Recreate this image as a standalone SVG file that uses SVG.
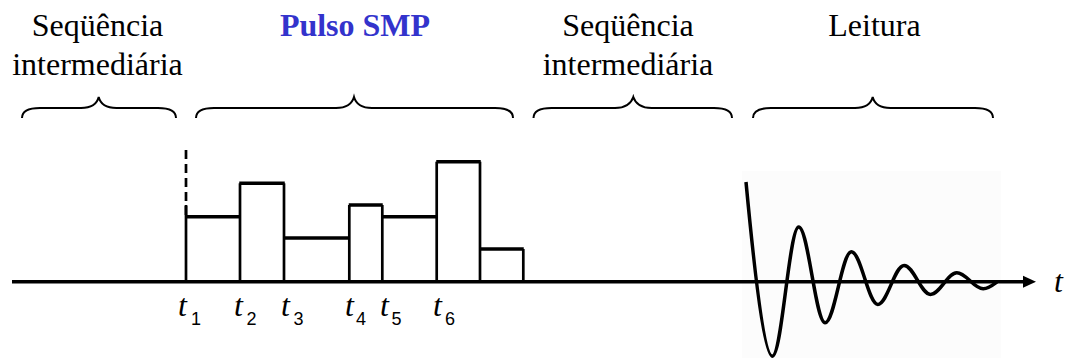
<svg xmlns="http://www.w3.org/2000/svg" width="1065" height="358" viewBox="0 0 1065 358">
<style>
.lbl{font-size:32px;fill:#000;text-anchor:middle}
.blue{fill:#3333cc;font-weight:bold}
.brace{fill:none;stroke:#000;stroke-width:2}
.top{stroke:#000;stroke-width:3.5;stroke-linecap:square}
.side{stroke:#000;stroke-width:2.7}
.ti{font-style:italic;font-size:32px;fill:#000}
.sub{font-size:18px;fill:#000}
</style>
<defs>
<marker id="arr" markerWidth="14" markerHeight="14" refX="0" refY="7" orient="auto" markerUnits="userSpaceOnUse"><path d="M0,1 L13,7 L0,13 z" fill="#000"/></marker>
</defs>
<rect width="1065" height="358" fill="#fff"/>
<rect x="742" y="171" width="259" height="187" fill="#fcfcfc"/>

<g id="label-seq1" font-family="Liberation Serif, DejaVu Serif, serif">
<text class="lbl" x="97.5" y="36">Seqüência</text>
<text class="lbl" x="97.5" y="75">intermediária</text>
<path class="brace" d="M22,118 C22,111 28,108 40,108 L81,108 C92,108 97,104 98.7,97 C100.4,104 105.4,108 116.4,108 L158,108 C170,108 176,111 176,118"/>
</g>
<g id="label-pulso" font-family="Liberation Serif, DejaVu Serif, serif">
<text class="lbl blue" x="355" y="36">Pulso SMP</text>
<path class="brace" d="M196,118 C196,111 202,108 214,108 L336,108 C347,108 352,104 354,97 C356,104 361,108 372,108 L495,108 C507,108 513,111 513,118"/>
</g>
<g id="label-seq2" font-family="Liberation Serif, DejaVu Serif, serif">
<text class="lbl" x="628" y="36">Seqüência</text>
<text class="lbl" x="628" y="75">intermediária</text>
<path class="brace" d="M533.5,118 C533.5,111 539.5,108 551.5,108 L615,108 C626,108 631,104 633.3,97 C635.6,104 640.6,108 651.6,108 L714,108 C726,108 732,111 732,118"/>
</g>
<g id="label-leitura" font-family="Liberation Serif, DejaVu Serif, serif">
<text class="lbl" x="874.5" y="36">Leitura</text>
<path class="brace" d="M753,118 C753,111 759,108 771,108 L855,108 C866,108 871,104 872.7,97 C874.4,104 879.4,108 890.4,108 L975,108 C987,108 993,111 993,118"/>
</g>

<g id="pulse">
<line x1="186" y1="150" x2="186" y2="216" stroke="#000" stroke-width="2.7" stroke-dasharray="9,5"/>
<line class="side" x1="186" y1="205" x2="186" y2="282"/>
<line class="side" x1="240" y1="183.3" x2="240" y2="282"/>
<line class="side" x1="284" y1="183.3" x2="284" y2="282"/>
<line class="side" x1="349.3" y1="205" x2="349.3" y2="282"/>
<line class="side" x1="382.3" y1="205" x2="382.3" y2="282"/>
<line class="side" x1="436.7" y1="161.7" x2="436.7" y2="282"/>
<line class="side" x1="480" y1="161.7" x2="480" y2="282"/>
<line class="side" x1="523.3" y1="249" x2="523.3" y2="282"/>
<line class="top" x1="187" y1="216.7" x2="239" y2="216.7"/>
<line class="top" x1="241" y1="183.3" x2="283" y2="183.3"/>
<line class="top" x1="285" y1="238" x2="348" y2="238"/>
<line class="top" x1="350.5" y1="205" x2="381" y2="205"/>
<line class="top" x1="383.5" y1="216.7" x2="435.5" y2="216.7"/>
<line class="top" x1="438" y1="161.7" x2="479" y2="161.7"/>
<line class="top" x1="481" y1="249" x2="522" y2="249"/>
</g>

<g id="signal">
<path d="M746,182 C751,235 762.9,356.2 772.4,356.2 C781.9,356.2 789.2,227 798.7,227 C808.2,227 815.6,322.8 825.1,322.8 C834.6,322.8 841.9,251.7 851.4,251.7 C860.9,251.7 868.3,304.4 877.8,304.4 C887.3,304.4 894.6,265.4 904.1,265.4 C913.6,265.4 921,294.4 930.5,294.4 C940,294.4 947.3,272.8 956.8,272.8 C966.3,272.8 973.7,288.8 983.2,288.8 C988,288.8 993,285 997,282" fill="none" stroke="#000" stroke-width="3.5" stroke-linejoin="round"/>
</g>

<g id="connectors">
<line x1="12" y1="281.7" x2="1023" y2="281.7" stroke="#000" stroke-width="3.5" marker-end="url(#arr)"/>
</g>

<g id="ticks">
<g id="t1"><text class="ti" font-family="Liberation Serif, DejaVu Serif, serif" x="178" y="316">t</text><text class="sub" font-family="Liberation Sans, DejaVu Sans, sans-serif" x="191" y="325">1</text></g>
<g id="t2"><text class="ti" font-family="Liberation Serif, DejaVu Serif, serif" x="234" y="316">t</text><text class="sub" font-family="Liberation Sans, DejaVu Sans, sans-serif" x="246.5" y="325">2</text></g>
<g id="t3"><text class="ti" font-family="Liberation Serif, DejaVu Serif, serif" x="281" y="316">t</text><text class="sub" font-family="Liberation Sans, DejaVu Sans, sans-serif" x="293.5" y="325">3</text></g>
<g id="t4"><text class="ti" font-family="Liberation Serif, DejaVu Serif, serif" x="345" y="316">t</text><text class="sub" font-family="Liberation Sans, DejaVu Sans, sans-serif" x="356" y="325">4</text></g>
<g id="t5"><text class="ti" font-family="Liberation Serif, DejaVu Serif, serif" x="380" y="316">t</text><text class="sub" font-family="Liberation Sans, DejaVu Sans, sans-serif" x="391.5" y="325">5</text></g>
<g id="t6"><text class="ti" font-family="Liberation Serif, DejaVu Serif, serif" x="433" y="316">t</text><text class="sub" font-family="Liberation Sans, DejaVu Sans, sans-serif" x="445" y="325">6</text></g>
<g id="taxis"><text class="ti" font-family="Liberation Serif, DejaVu Serif, serif" x="1054" y="292">t</text></g>
</g>
</svg>
